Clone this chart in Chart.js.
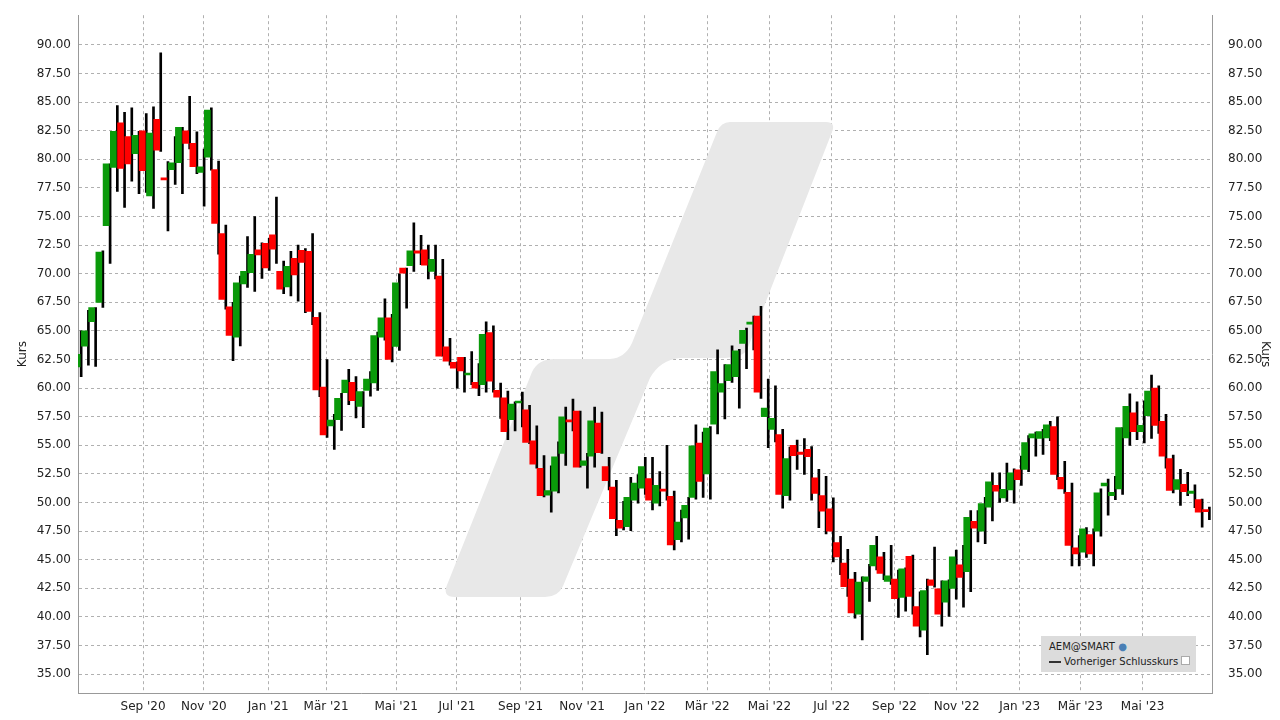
<!DOCTYPE html>
<html>
<head>
<meta charset="utf-8">
<script src="https://cdn.jsdelivr.net/npm/chart.js@4.4.0/dist/chart.umd.min.js"></script>
<style>
  body { margin: 0; background: #fff; font-family: "DejaVu Sans", sans-serif; }
  #wrap { position: relative; width: 1280px; height: 720px; }
  #legend { position: absolute; left: 1041px; top: 636px; width: 155px; height: 36px; background: #dcdcdc;
            font-size: 10px; color: #222; line-height: 15px; padding: 3px 0 0 8px; box-sizing: border-box; }
  .ln { display: inline-block; width: 12px; border-top: 2px dashed #333; vertical-align: middle; margin-right: 3px; }
</style>
</head>
<body>
<div id="wrap">
<canvas id="kursChart" width="1280" height="720"></canvas>
<div id="legend">AEM@SMART <span style="color:#4a7fb5">&#9679;</span><br><span class="ln"></span>Vorheriger Schlusskurs <span style="display:inline-block;width:7px;height:7px;border:1px solid #aaa;background:#fff"></span></div>
</div>
<script>
// Wochenkerzen (Eröffnung, Schluss, Hoch, Tief)
const opens = [61.85,63.67,65.8,67.5,74.2,79.3,83.2,82.0,80.5,82.5,76.8,83.5,78.3,79.1,79.7,82.5,81.4,78.85,80.2,79.1,
  73.5,67.1,64.45,69.1,70.1,72.1,72.65,73.4,70.2,68.85,71.35,72.05,71.95,66.2,60.1,56.7,57.25,59.6,60.5,58.4,
  59.8,60.45,64.45,66.15,63.65,70.5,70.7,72.0,72.1,70.2,69.8,63.6,62.25,62.7,61.15,60.5,60.3,64.85,59.8,59.15,
  57.25,58.7,58.1,55.4,53.0,50.65,51.0,54.3,57.2,58.0,53.25,54.05,56.95,53.15,51.35,48.45,47.9,50.2,51.25,52.1,
  49.95,51.15,50.55,46.75,48.65,50.45,55.2,52.5,56.85,59.65,60.65,61.0,63.9,65.6,66.3,57.5,56.4,55.95,50.6,55.0,
  54.4,54.65,52.15,50.6,49.45,46.5,44.7,43.3,40.25,43.1,44.45,45.25,43.1,43.3,41.7,45.3,40.9,38.85,43.25,42.45,
  41.3,42.5,44.55,43.95,48.35,47.5,49.6,51.5,50.4,51.1,52.85,52.9,55.65,55.6,55.65,56.65,52.2,50.9,46.05,45.65,
  47.2,47.5,51.45,50.6,51.2,55.65,57.85,56.2,57.6,60.0,57.1,53.85,51.15,51.6,50.8,50.25,49.35];
const closes = [62.95,65.0,67.05,71.9,79.6,82.45,79.2,79.6,82.1,79.0,82.3,80.8,78.2,79.7,82.8,81.4,79.35,79.35,84.3,74.4,
  67.75,64.6,69.2,70.2,71.7,71.65,70.5,72.15,68.65,70.65,69.9,71.0,66.7,59.85,55.9,57.2,59.1,60.7,58.9,59.7,
  60.8,64.6,66.15,62.5,69.2,70.05,72.0,71.8,70.75,71.25,62.8,62.35,61.75,61.5,61.3,60.0,64.7,60.6,59.2,56.2,
  58.6,58.85,55.25,53.35,50.6,51.05,54.0,57.5,57.05,53.1,53.65,57.15,54.35,51.9,48.6,47.75,50.45,51.7,53.15,50.2,
  51.5,51.0,46.3,48.3,49.75,54.95,51.85,56.5,61.45,60.4,62.05,63.25,65.05,65.75,59.65,58.25,57.35,50.7,53.85,54.1,
  54.2,54.0,50.8,49.25,47.5,45.25,42.65,40.35,43.05,43.5,46.25,43.8,43.6,41.6,44.2,41.8,39.2,42.3,42.75,40.25,
  43.15,45.25,43.45,48.7,47.75,49.9,51.8,51.0,51.15,52.6,52.0,55.25,56.0,56.2,56.8,52.45,51.2,46.25,45.5,47.7,
  45.5,50.85,51.7,50.9,56.55,58.4,56.2,56.75,59.75,56.75,54.05,51.05,52.0,50.95,51.0,49.15,49.2];
const highs = [65.0,66.8,67.05,72.0,79.6,84.7,84.1,84.5,82.45,84.0,84.6,89.3,79.8,82.0,82.8,85.5,82.4,80.9,84.5,79.85,
  74.25,67.5,69.8,73.25,75.0,72.7,73.1,76.7,71.1,71.95,72.5,72.2,73.5,66.6,62.5,57.7,59.55,61.65,61.0,59.7,
  61.45,64.9,67.8,66.45,70.0,70.5,74.45,73.35,72.5,72.5,71.25,64.35,62.3,62.7,63.2,62.15,65.8,65.45,60.45,59.75,
  58.8,59.65,58.5,56.7,54.1,53.2,55.3,58.35,59.05,58.0,54.3,58.35,57.9,53.95,51.95,50.1,52.2,52.45,53.95,53.95,
  52.7,55.0,51.0,49.35,50.45,56.8,56.15,56.65,63.35,62.05,63.7,63.4,65.25,66.3,67.15,60.8,60.2,56.4,54.85,55.45,
  55.6,54.9,52.9,52.3,50.4,47.05,45.9,43.9,43.5,44.6,47.05,45.65,46.25,44.1,44.3,45.4,42.2,43.3,46.1,43.15,
  43.25,45.85,46.25,49.3,49.3,50.45,52.6,52.6,53.45,52.95,54.05,55.85,56.15,56.4,57.1,57.5,53.6,51.7,47.1,47.8,
  47.7,51.2,52.05,52.3,56.55,59.5,58.8,58.9,61.15,60.2,57.7,54.15,52.9,52.65,51.55,50.3,49.6];
const lows = [61.0,62.0,61.9,67.05,70.9,77.2,75.8,78.1,77.0,77.1,75.7,80.7,73.75,77.8,77.0,80.9,78.75,75.9,79.05,71.7,
  66.9,62.4,63.7,68.8,68.45,69.6,70.3,70.9,68.25,68.05,67.6,66.6,65.55,59.25,55.7,54.65,56.3,58.55,57.4,56.55,
  59.3,59.8,64.2,62.3,63.3,67.0,70.2,70.8,69.55,69.55,62.8,62.0,60.0,59.65,60.3,59.35,59.65,59.65,57.35,55.5,
  56.25,56.6,55.15,53.0,50.5,49.15,50.85,53.25,56.25,53.1,51.25,53.1,54.3,51.1,47.1,47.6,47.55,49.95,50.7,49.35,
  49.7,50.2,45.85,46.55,46.8,50.3,50.45,50.3,56.0,57.3,60.5,58.25,61.7,63.35,59.1,54.8,55.3,49.5,50.2,52.9,
  52.45,50.2,47.8,47.25,44.8,43.7,41.8,39.9,38.0,41.35,44.1,43.25,42.85,39.95,40.5,40.25,38.25,36.7,42.6,39.2,
  40.05,41.55,40.85,42.2,46.55,46.4,48.4,50.0,50.1,49.95,51.5,52.7,54.05,54.2,55.4,52.0,50.8,44.45,44.45,45.2,
  44.45,47.05,48.9,50.25,50.7,55.0,55.5,55.2,55.6,56.05,53.0,50.85,49.75,50.6,49.55,47.85,48.5];

// Monatsbeschriftungen und ihre Position (in Wochen ab der ersten Kerze)
const monthLabels = ["Sep '20","Nov '20","Jan '21","Mär '21","Mai '21","Jul '21","Sep '21","Nov '21","Jan '22",
  "Mär '22","Mai '22","Jul '22","Sep '22","Nov '22","Jan '23","Mär '23","Mai '23"];
const monthPos = [8.7,17.1,26.0,34.0,43.7,52.1,60.9,69.4,78.1,86.7,95.3,103.9,112.6,121.2,129.9,138.3,146.9];
const yTicks = [35,37.5,40,42.5,45,47.5,50,52.5,55,57.5,60,62.5,65,67.5,70,72.5,75,77.5,80,82.5,85,87.5,90];

const bodies = opens.map((o, i) => ({ x: i, y: [Math.min(o, closes[i]), Math.max(o, closes[i])] }));
const wicks = highs.map((h, i) => ({ x: i, y: [lows[i], h] }));
const bodyColors = opens.map((o, i) => closes[i] >= o ? '#0a9a0a' : '#ff0000');

const grid = { color: '#b0b0b0', drawTicks: false, offset: false };
const dashed = { color: '#999', dash: [3, 3] };
const tickFont = { family: 'DejaVu Sans', size: 12 };

// Wasserzeichen im Hintergrund
const watermark = {
  id: 'watermark',
  beforeDatasetsDraw(chart) {
    const c = chart.ctx;
    c.save();
    c.fillStyle = '#e8e8e8';
    c.beginPath();
    c.moveTo(730, 122); c.lineTo(826, 122);
    c.quadraticCurveTo(836, 122, 832, 132);
    c.lineTo(747, 350);
    c.quadraticCurveTo(742, 358, 720, 358);
    c.lineTo(680, 358);
    c.quadraticCurveTo(660, 360, 650, 378);
    c.lineTo(563, 586);
    c.quadraticCurveTo(558, 597, 545, 597);
    c.lineTo(455, 597);
    c.quadraticCurveTo(442, 597, 447, 585);
    c.lineTo(532, 372);
    c.quadraticCurveTo(538, 359, 555, 359);
    c.lineTo(610, 359);
    c.quadraticCurveTo(625, 358, 632, 343);
    c.lineTo(717, 132);
    c.quadraticCurveTo(721, 122, 730, 122);
    c.closePath();
    c.fill();
    c.restore();
  }
};

const ctx = document.getElementById('kursChart').getContext('2d');
new Chart(ctx, {
  type: 'bar',
  data: {
    datasets: [
      { data: bodies, backgroundColor: bodyColors, barThickness: 6, minBarLength: 2, order: 1 },
      { data: wicks, backgroundColor: '#000', barThickness: 2, order: 2 }
    ]
  },
  options: {
    responsive: false,
    animation: false,
    layout: { padding: { top: 9, left: 16, right: 8 } },
    plugins: { legend: { display: false }, tooltip: { enabled: false } },
    scales: {
      x: {
        type: 'linear', min: -0.3, max: 156.5, offset: false, grid: grid, border: dashed,
        afterBuildTicks(ax) { ax.ticks = monthPos.map(v => ({ value: v })); },
        ticks: { font: tickFont, color: '#222', padding: 7, maxRotation: 0, autoSkip: false,
          callback: (v, i) => monthLabels[i] },
        afterFit(ax) { ax.height = 27; }
      },
      y: {
        position: 'left', min: 33.35, max: 92.6, grid: grid, border: dashed,
        afterBuildTicks(ax) { ax.ticks = yTicks.map(v => ({ value: v })); },
        ticks: { font: tickFont, color: '#222', padding: 7, callback: v => v.toFixed(2) },
        title: { display: true, text: 'Kurs', font: tickFont, color: '#222', padding: 0 },
        afterFit(ax) { ax.width = 62; }
      },
      y2: {
        position: 'right', min: 33.35, max: 92.6, grid: { display: false }, border: { color: '#999' },
        afterBuildTicks(ax) { ax.ticks = yTicks.map(v => ({ value: v })); },
        ticks: { font: tickFont, color: '#222', padding: 8, callback: v => v.toFixed(2) },
        title: { display: true, text: 'Kurs', font: tickFont, color: '#222', padding: 0 },
        afterFit(ax) { ax.width = 60; }
      }
    }
  },
  plugins: [watermark]
});
</script>
</body>
</html>
